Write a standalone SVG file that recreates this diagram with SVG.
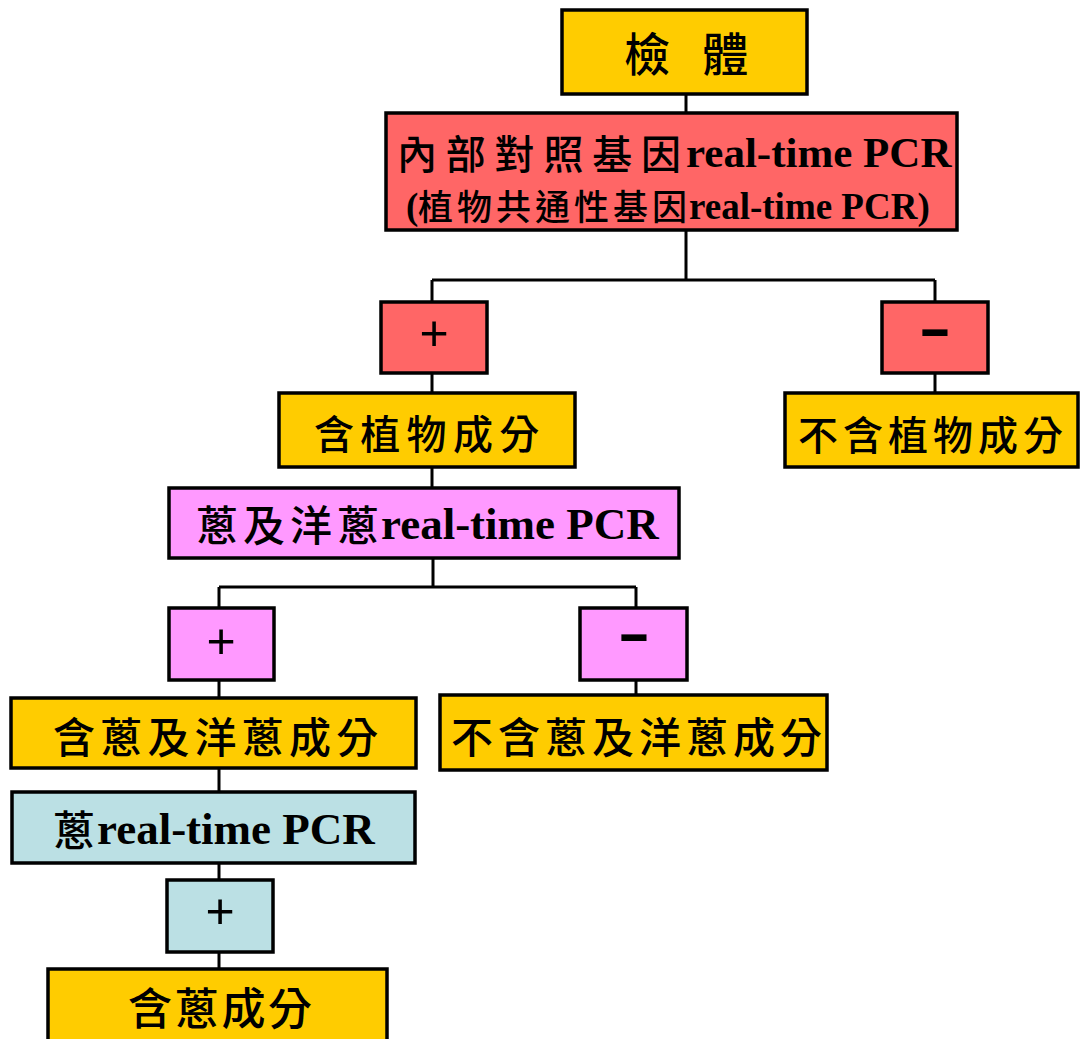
<svg xmlns="http://www.w3.org/2000/svg" width="1080" height="1039" viewBox="0 0 1080 1039">
<style>
.box{stroke:#000;stroke-width:3.5}
.y{fill:#FFCC00}.r{fill:#FF6666}.p{fill:#FF99FF}.b{fill:#BBE0E4}
.cjk{font-family:"Noto Sans CJK TC","Noto Sans CJK SC",sans-serif;font-weight:500;fill:#000}
.lat{font-family:"Liberation Serif","Times New Roman",serif;font-weight:bold;fill:#000}
.sym{font-family:"Liberation Sans",Arial,sans-serif;fill:#000;text-anchor:middle}
.minus{font-family:"Liberation Sans",Arial,sans-serif;font-weight:bold;fill:#000;text-anchor:middle}
.conn{stroke:#000;stroke-width:3;fill:none}
</style>
<rect width="1080" height="1039" fill="#fff"/>
<g id="connectors" class="conn">
<path d="M686,94V113"/>
<path d="M686,230V280M432,280H935M432,280V302M935,280V302"/>
<path d="M432,373V393M935,373V393"/>
<path d="M432,467V488"/>
<path d="M433,558V587M219,587H636M219,587V608M636,587V608"/>
<path d="M219,680V698M636,680V695"/>
<path d="M219,768V792"/>
<path d="M219,863V880"/>
<path d="M219,952V969"/>
</g>
<g id="n_sample">
<rect class="box y" x="562" y="10" width="245" height="84"/>
<text class="cjk" x="624" y="71" font-size="46" letter-spacing="11">檢 體</text>
</g>
<g id="n_internal">
<rect class="box r" x="386" y="113" width="571" height="117"/>
<text class="cjk" x="397" y="169" font-size="40" letter-spacing="8.8">內部對照基因</text>
<text class="lat" x="686" y="167" font-size="43">real-time PCR</text>
<text class="lat" x="406" y="219" font-size="37">(</text>
<text class="cjk" x="418" y="220" font-size="35" letter-spacing="4">植物共通性基因</text>
<text class="lat" x="689" y="219" font-size="37">real-time PCR)</text>
</g>
<g id="n_plant_pos">
<rect class="box r" x="381" y="302" width="106" height="71"/>
<text class="sym" x="434" y="350" font-size="50">+</text>
</g>
<g id="n_plant_neg">
<rect class="box r" x="882" y="302" width="106" height="71"/>
<text class="minus" x="935" y="346.5" font-size="56" textLength="33" lengthAdjust="spacingAndGlyphs">-</text>
</g>
<g id="n_has_plant">
<rect class="box y" x="279" y="393" width="296" height="74"/>
<text class="cjk" x="314" y="449" font-size="40" letter-spacing="6.3">含植物成分</text>
</g>
<g id="n_no_plant">
<rect class="box y" x="785" y="393" width="293" height="74"/>
<text class="cjk" x="798" y="450" font-size="40" letter-spacing="5">不含植物成分</text>
</g>
<g id="n_onion_pcr">
<rect class="box p" x="169" y="488" width="510" height="70"/>
<text class="cjk" x="196" y="541" font-size="42" letter-spacing="5">蔥及洋蔥</text>
<text class="lat" x="381" y="539" font-size="45">real-time PCR</text>
</g>
<g id="n_onion_pos">
<rect class="box p" x="169" y="608" width="105" height="72"/>
<text class="sym" x="221" y="658" font-size="50">+</text>
</g>
<g id="n_onion_neg">
<rect class="box p" x="580" y="608" width="107" height="72"/>
<text class="minus" x="634" y="652" font-size="56" textLength="33" lengthAdjust="spacingAndGlyphs">-</text>
</g>
<g id="n_has_onion">
<rect class="box y" x="11" y="698" width="405" height="70"/>
<text class="cjk" x="53" y="753" font-size="42" letter-spacing="5.2">含蔥及洋蔥成分</text>
</g>
<g id="n_no_onion">
<rect class="box y" x="440" y="695" width="387" height="75"/>
<text class="cjk" x="451" y="753" font-size="42" letter-spacing="5">不含蔥及洋蔥成分</text>
</g>
<g id="n_scallion_pcr">
<rect class="box b" x="12" y="792" width="403" height="71"/>
<text class="cjk" x="53" y="846" font-size="42">蔥</text>
<text class="lat" x="97" y="844" font-size="45">real-time PCR</text>
</g>
<g id="n_scallion_pos">
<rect class="box b" x="167" y="880" width="106" height="72"/>
<text class="sym" x="220" y="928" font-size="50">+</text>
</g>
<g id="n_has_scallion">
<rect class="box y" x="48" y="969" width="339" height="80"/>
<text class="cjk" x="128" y="1025" font-size="44" letter-spacing="2.7">含蔥成分</text>
</g>
</svg>
